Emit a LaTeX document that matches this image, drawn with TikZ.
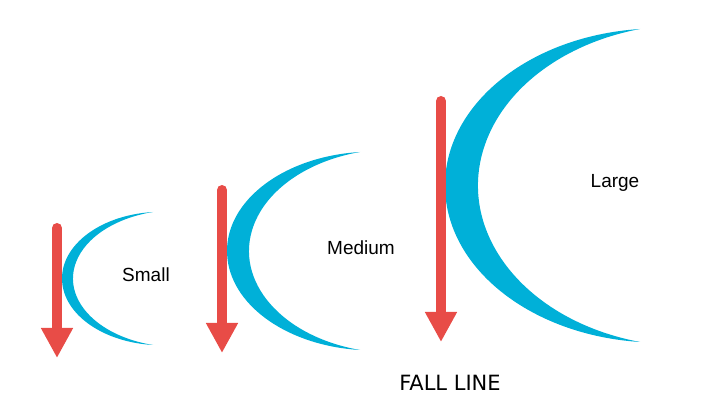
\documentclass[tikz,border=0pt]{standalone}
\usepackage{fontspec}
\setmainfont{Liberation Sans}
\newfontfamily\fallfont{DejaVu Sans}
\usetikzlibrary{arrows.meta,positioning}
\definecolor{turnblue}{RGB}{0,176,216}
\definecolor{fallred}{RGB}{232,76,71}

\begin{document}
\begin{tikzpicture}[x=1pt,y=-1pt]
    \tikzstyle{turn}=[fill=turnblue, draw=none]
    \tikzstyle{fall}=[draw=fallred, line width=10pt, line cap=round, -{Triangle[width=30pt,length=30pt]}]
    \tikzstyle{sizename}=[inner sep=0pt, font=\fontsize{19}{22}\selectfont]

    \useasboundingbox (0,0) rectangle (705,414);

    % crescents: tip x, top y, bottom y, outer left x, inner left x
    \def\To{85}
    \def\Ti{76}
    \foreach \xt/\yt/\yb/\xout/\xin in {153/212/345/62/73, 360/152/350/227/249, 640/29/342/445/478}{
      \pgfmathsetmacro\hh{(\yb-\yt)/2}
      \pgfmathsetmacro\rxo{(\xt-\xout)/(1-cos(\To))}
      \pgfmathsetmacro\ryo{\hh/sin(\To)}
      \pgfmathsetmacro\rxi{(\xt-\xin)/(1-cos(\Ti))}
      \pgfmathsetmacro\ryi{\hh/sin(\Ti)}
      \fill[turn] (\xt,\yt)
        arc[start angle={180+\To}, end angle={180-\To}, x radius=\rxo, y radius=\ryo]
        arc[start angle={180-\Ti}, end angle={180+\Ti}, x radius=\rxi, y radius=\ryi] -- cycle;
    }

    \coordinate (small top) at (57,228);
    \coordinate (small tip) at (57,358);
    \coordinate (medium top) at (222,190);
    \coordinate (medium tip) at (222,353);
    \coordinate (large top) at (441,101);
    \coordinate (large tip) at (441,342);

    \draw[fall] (small top) -- (small tip);
    \draw[fall] (medium top) -- (medium tip);
    \draw[fall] (large top) -- (large tip);

    \node[sizename] (small)  at (146,275) {Small};
    \node[sizename] (medium) at (361,248) {Medium};
    \node[sizename] (large)  at (615,183) {Large};
    \node[inner sep=0pt, font=\fallfont\fontsize{21}{24}\selectfont] (fall line) at (450,383) {FALL LINE};

\end{tikzpicture}
\end{document}
